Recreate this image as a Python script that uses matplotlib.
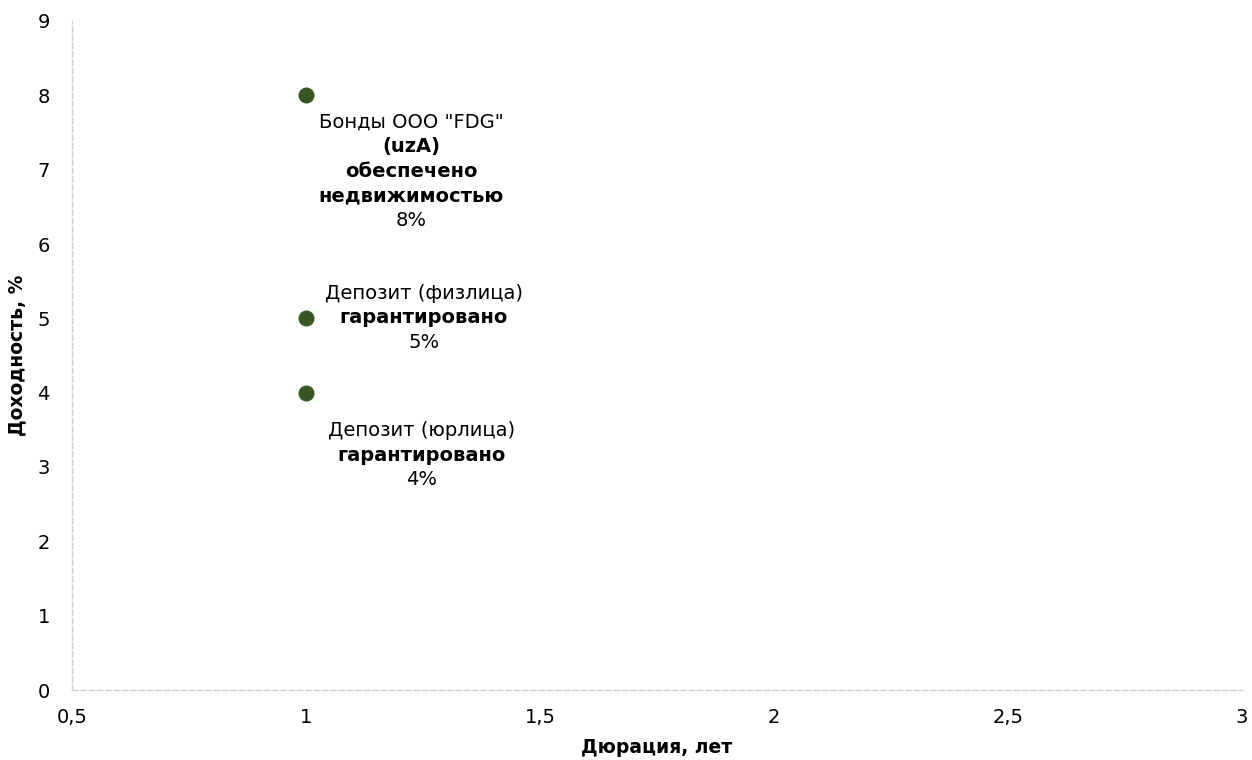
import matplotlib.pyplot as plt

# данные
duration = [1, 1, 1]
yield_pct = [8, 5, 4]
label_lines = [
    [('Бонды ООО "FDG"', False), ('(uzA)', True), ('обеспечено', True),
     ('недвижимостью', True), ('8%', False)],
    [('Депозит (физлица)', False), ('гарантировано', True), ('5%', False)],
    [('Депозит (юрлица)', False), ('гарантировано', True), ('4%', False)],
]
# смещение центра подписи от точки (px) - только расположение
label_dx = [105, 118, 116]
label_dy = [-27, 25, -38]

x_ticks = [0.5, 1, 1.5, 2, 2.5, 3]
x_ticklabels = ['0,5', '1', '1,5', '2', '2,5', '3']
y_ticks = list(range(10))

plt.rcParams['font.family'] = ['DejaVu Sans']
fig = plt.figure(figsize=(12.52, 7.6), dpi=100)
ax = fig.add_axes([72 / 1252, 70 / 760, (1242 - 72) / 1252, (690 - 21) / 760])

ax.scatter(duration, yield_pct, s=110, color='#375623', zorder=3)

line_h = 24.6
for x, y, lines, dx, dy in zip(duration, yield_pct, label_lines, label_dx, label_dy):
    for i, (txt, bold) in enumerate(lines):
        ax.annotate(txt, (x, y), xytext=(dx, dy - i * line_h), textcoords='offset pixels',
                    ha='center', va='center', fontsize=14,
                    fontweight='bold' if bold else 'normal', color='black')

ax.set_xlim(0.5, 3)
ax.set_ylim(0, 9)
ax.set_xticks(x_ticks)
ax.set_xticklabels(x_ticklabels)
ax.set_yticks(y_ticks)
ax.tick_params(length=0, labelsize=14)
ax.tick_params(axis='x', pad=13)
ax.tick_params(axis='y', pad=16)

for s in ['top', 'right']:
    ax.spines[s].set_visible(False)
for s in ['left', 'bottom']:
    ax.spines[s].set_linestyle((0, (4, 2)))
    ax.spines[s].set_color('#d0d0d0')
    ax.spines[s].set_linewidth(1)

ax.set_xlabel('Дюрация, лет', fontsize=13.5, fontweight='bold', labelpad=8)
ax.set_ylabel('Доходность, %', fontsize=13.5, fontweight='bold', labelpad=8)

fig.savefig('out.png', dpi=100)
